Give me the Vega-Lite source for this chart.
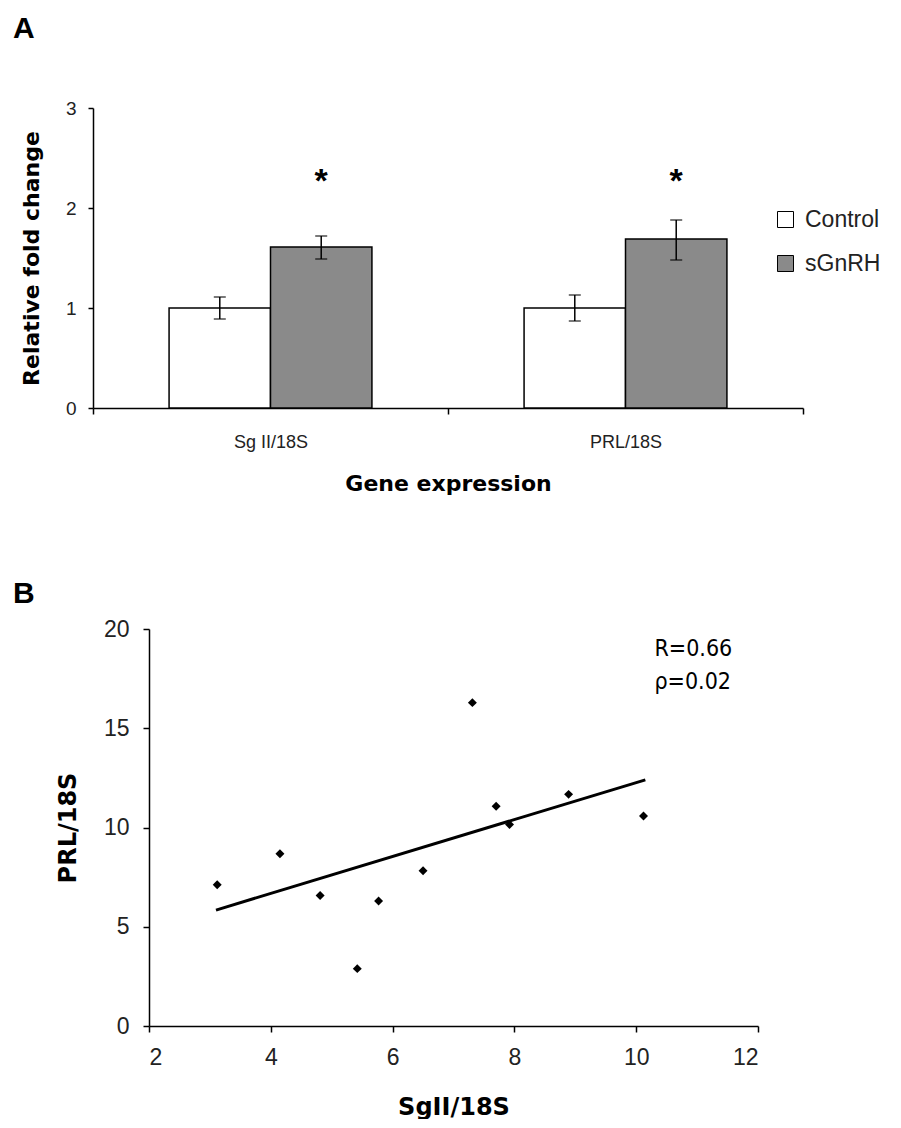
{
  "$schema": "https://vega.github.io/schema/vega-lite/v6.json",
  "background": "white",
  "padding": {"left": 13, "top": 14, "right": 0, "bottom": 0},
  "spacing": 85,
  "config": {
    "view": {"stroke": null},
    "axis": {"domainColor": "black", "tickColor": "black", "labelColor": "#222", "titleColor": "black", "grid": false, "domainWidth": 1.5, "tickWidth": 1.5, "labelFont": "Liberation Sans", "titleFont": "DejaVu Sans", "titleFontWeight": "bold"},
    "title": {"font": "Liberation Sans", "fontWeight": "bold", "fontSize": 30, "color": "black"}
  },
  "vconcat": [
    {
      "width": 710,
      "height": 300,
      "title": {"text": "A", "anchor": "start", "frame": "group", "dx": -80, "offset": 55},
      "data": {"values": [
        {"gene": "Sg II/18S", "group": "Control", "mean": 1.0, "lo": 0.89, "hi": 1.11},
        {"gene": "Sg II/18S", "group": "sGnRH", "mean": 1.61, "lo": 1.49, "hi": 1.72, "star": 2.26},
        {"gene": "PRL/18S", "group": "Control", "mean": 1.0, "lo": 0.87, "hi": 1.13},
        {"gene": "PRL/18S", "group": "sGnRH", "mean": 1.69, "lo": 1.48, "hi": 1.88, "star": 2.26}
      ]},
      "encoding": {
        "x": {"field": "gene", "type": "nominal", "scale": {"domain": ["Sg II/18S", "PRL/18S"], "paddingInner": 0, "paddingOuter": 0},
              "axis": {"title": "Gene expression", "labelAngle": 0, "tickBand": "extent", "tickSize": 6, "labelPadding": 19, "labelFontSize": 18, "titleFontSize": 22, "titlePadding": 22}},
        "xOffset": {"field": "group", "type": "nominal", "scale": {"domain": ["Control", "sGnRH"], "paddingInner": 0, "paddingOuter": 0.75}}
      },
      "layer": [
        {
          "mark": {"type": "bar", "stroke": "black", "strokeWidth": 1.5},
          "encoding": {
            "y": {"field": "mean", "type": "quantitative", "scale": {"domain": [0, 3], "nice": false},
                  "axis": {"values": [0, 1, 2, 3], "format": "d", "title": "Relative fold change", "tickSize": 5, "labelPadding": 12, "labelFontSize": 19, "titleFontSize": 22, "titlePadding": 22}},
            "fill": {"field": "group", "type": "nominal", "scale": {"domain": ["Control", "sGnRH"], "range": ["white", "#8a8a8a"]},
                     "legend": {"title": null, "orient": "none", "legendX": 681, "legendY": 100, "symbolType": "square", "symbolSize": 256, "symbolStrokeColor": "black", "symbolStrokeWidth": 1, "labelFontSize": 23, "labelFont": "Liberation Sans", "labelColor": "#222", "rowPadding": 20, "labelOffset": 8}}
          }
        },
        {
          "mark": {"type": "rule", "color": "black", "strokeWidth": 1.5},
          "encoding": {"y": {"field": "lo", "type": "quantitative"}, "y2": {"field": "hi"}}
        },
        {
          "mark": {"type": "tick", "color": "black", "thickness": 1.5, "size": 12},
          "encoding": {"y": {"field": "lo", "type": "quantitative"}}
        },
        {
          "mark": {"type": "tick", "color": "black", "thickness": 1.5, "size": 12},
          "encoding": {"y": {"field": "hi", "type": "quantitative"}}
        },
        {
          "transform": [{"filter": "isValid(datum.star)"}],
          "mark": {"type": "text", "text": "*", "fontSize": 34, "fontWeight": "bold", "font": "Liberation Sans", "baseline": "middle", "color": "black"},
          "encoding": {"y": {"field": "star", "type": "quantitative"}}
        }
      ]
    },
    {
      "width": 665,
      "height": 397,
      "title": {"text": "B", "anchor": "start", "frame": "group", "dx": -80, "offset": 9},
      "encoding": {
        "x": {"field": "x", "type": "quantitative", "scale": {"domain": [2, 12], "range": [56, 665], "nice": false, "zero": false},
              "axis": {"values": [2, 4, 6, 8, 10, 12], "title": "SgII/18S", "tickSize": 6, "labelPadding": 14, "labelFontSize": 23, "titleFontSize": 24, "titlePadding": 26}},
        "y": {"field": "y", "type": "quantitative", "scale": {"domain": [0, 20], "nice": false},
              "axis": {"values": [0, 5, 10, 15, 20], "offset": -56, "title": "PRL/18S", "tickSize": 6, "labelPadding": 14, "labelFontSize": 23, "titleFontSize": 24, "titlePadding": 23}}
      },
      "layer": [
        {
          "data": {"values": [{"x": 3.1, "y": 5.84}, {"x": 10.15, "y": 12.4}]},
          "mark": {"type": "line", "color": "black", "strokeWidth": 3}
        },
        {
          "data": {"values": [
            {"x": 3.12, "y": 7.12}, {"x": 4.15, "y": 8.68}, {"x": 4.81, "y": 6.57}, {"x": 5.42, "y": 2.89},
            {"x": 5.77, "y": 6.30}, {"x": 6.50, "y": 7.82}, {"x": 7.31, "y": 16.29}, {"x": 7.70, "y": 11.07},
            {"x": 7.92, "y": 10.15}, {"x": 8.89, "y": 11.67}, {"x": 10.12, "y": 10.58}
          ]},
          "mark": {"type": "point", "shape": "diamond", "filled": true, "color": "black", "opacity": 1, "size": 80}
        },
        {
          "data": {"values": [{"x": 10.3, "y": 19.0, "t": "R=0.66"}, {"x": 10.3, "y": 17.33, "t": "ρ=0.02"}]},
          "mark": {"type": "text", "align": "left", "baseline": "middle", "fontSize": 23, "font": "'Liberation Sans Narrow', 'DejaVu Sans Condensed', 'Liberation Sans'", "color": "black"},
          "encoding": {"text": {"field": "t"}}
        }
      ]
    }
  ]
}
